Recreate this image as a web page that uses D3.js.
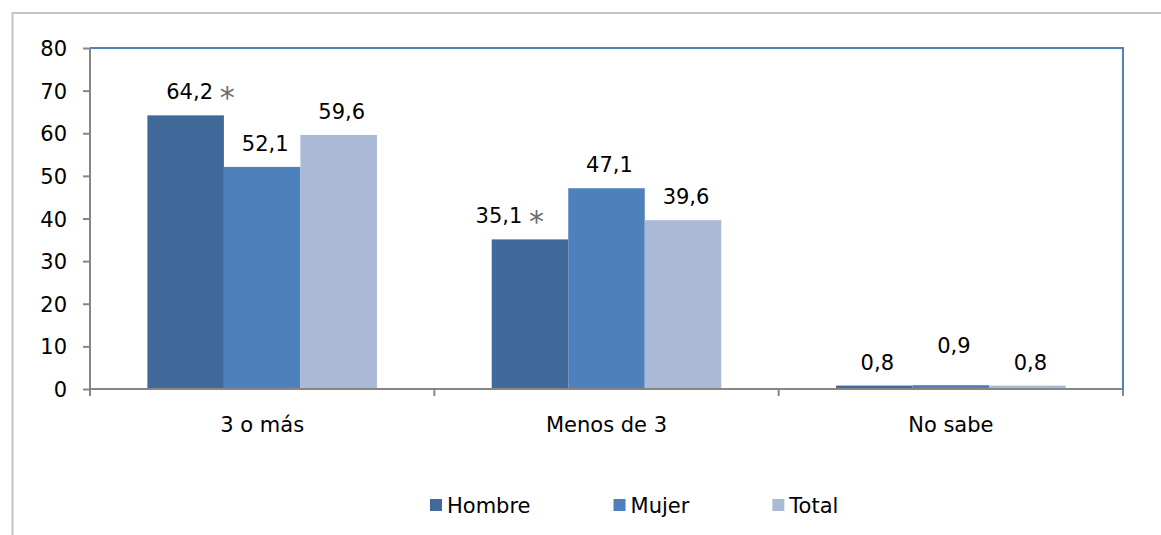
<!DOCTYPE html>
<html>
<head>
<meta charset="utf-8">
<script src="https://cdn.jsdelivr.net/npm/d3@7"></script>
<style>
  body { margin: 0; background: #fff; }
  text { font-family: "DejaVu Sans", Verdana, sans-serif; fill: #000; }
</style>
</head>
<body>
<div id="chart"></div>
<script>
const categories = ["3 o más", "Menos de 3", "No sabe"]
const seriesNames = ["Hombre", "Mujer", "Total"]
const hombre = [64.2, 35.1, 0.8]
const mujer = [52.1, 47.1, 0.9]
const total = [59.6, 39.6, 0.8]
const yTicks = [0, 10, 20, 30, 40, 50, 60, 70, 80]
// significance marks on Hombre labels
const starred = { "Hombre|3 o más": true, "Hombre|Menos de 3": true }

const colors = { Hombre: "#416A9B", Mujer: "#4E80BC", Total: "#AAB9D6" }

const width = 1161
const height = 535
const margin = { top: 48, right: 38, bottom: 146, left: 90 }
const fontSize = "21px"

const svg = d3.select("#chart").append("svg").attr("width", width).attr("height", height)

// outer chart frame (clipped at right and bottom)
svg.append("rect")
  .attr("x", 12.5).attr("y", 13)
  .attr("width", width + 20).attr("height", height + 20)
  .attr("fill", "none").attr("stroke", "#C4C4C4").attr("stroke-width", 2)

const rows = []
categories.forEach((c, i) => {
  rows.push({ cat: c, series: "Hombre", value: hombre[i] })
  rows.push({ cat: c, series: "Mujer", value: mujer[i] })
  rows.push({ cat: c, series: "Total", value: total[i] })
})

const x0 = d3.scaleBand().domain(categories).range([margin.left, width - margin.right]).paddingInner(0).paddingOuter(0)
const x1 = d3.scaleBand().domain(seriesNames).range([0, x0.bandwidth()]).paddingInner(0).paddingOuter(0.75)
const y = d3.scaleLinear().domain([0, 80]).range([height - margin.bottom, margin.top])

// plot area border: top and right in blue
svg.append("path")
  .attr("d", `M${margin.left},${y(80)}H${width - margin.right}V${y(0)}`)
  .attr("fill", "none").attr("stroke", "#4F81BD").attr("stroke-width", 2)

// bars
svg.append("g").selectAll("rect")
  .data(rows)
  .join("rect")
  .attr("x", d => x0(d.cat) + x1(d.series))
  .attr("y", d => y(d.value))
  .attr("width", x1.bandwidth())
  .attr("height", d => y(0) - y(d.value))
  .attr("fill", d => colors[d.series])

// value labels
const fmt = v => d3.format(".1f")(v).replace(".", ",")
const lbl = svg.append("g")
rows.forEach(d => {
  const key = d.series + "|" + d.cat
  const cx = x0(d.cat) + x1(d.series) + x1.bandwidth() / 2
  let dx = 3
  let dy = -16
  if (starred[key] && d.cat === "Menos de 3") dx = -31
  if (starred[key] && d.cat === "3 o más") dx = 4
  if (d.cat === "No sabe" && d.series === "Mujer") dy = -32
  lbl.append("text")
    .attr("x", cx + dx)
    .attr("y", y(d.value) + dy)
    .attr("text-anchor", "middle")
    .style("font-size", fontSize)
    .text(fmt(d.value))
  if (starred[key]) {
    lbl.append("text")
      .attr("x", cx + dx + 30)
      .attr("y", y(d.value) + dy + 9)
      .style("font-size", "30px")
      .style("fill", "#6E6E6E")
      .text("*")
  }
})

// y axis
const yAxis = svg.append("g")
  .attr("transform", `translate(${margin.left},0)`)
  .call(d3.axisLeft(y).tickValues(yTicks).tickSize(7).tickPadding(16).tickFormat(d3.format("d")))
yAxis.select(".domain").attr("stroke", "#868686").attr("stroke-width", 2).attr("d", `M0,${y(80)}V${y(0)}`)
yAxis.selectAll(".tick line").attr("stroke", "#868686").attr("stroke-width", 2)
yAxis.selectAll(".tick text").style("font-size", fontSize).attr("dy", "0.36em").attr("font-family", null)

// x axis
const xAxis = svg.append("g")
  .attr("transform", `translate(0,${y(0)})`)
  .call(d3.axisBottom(x0).tickSize(0).tickPadding(28))
xAxis.select(".domain").attr("stroke", "#868686").attr("stroke-width", 2).attr("d", `M${margin.left},0H${width - margin.right}`)
xAxis.selectAll(".tick text").style("font-size", fontSize).attr("font-family", null)
// boundary ticks between categories
xAxis.append("g").selectAll("line")
  .data(categories.concat([null]))
  .join("line")
  .attr("x1", (d, i) => i < categories.length ? x0(d) : x0.range()[1])
  .attr("x2", (d, i) => i < categories.length ? x0(d) : x0.range()[1])
  .attr("y1", 0).attr("y2", 7)
  .attr("stroke", "#868686").attr("stroke-width", 2)
svg.selectAll(".tick text").style("fill", "#000")

// legend, items laid out one after another
const legend = svg.append("g").attr("transform", "translate(0,499)")
let lx = 430
seriesNames.forEach(s => {
  const g = legend.append("g").attr("transform", `translate(${lx},0)`)
  g.append("rect").attr("width", 12).attr("height", 12).attr("fill", colors[s])
  const t = g.append("text").attr("x", 17).attr("y", 14).style("font-size", fontSize).text(s)
  lx += 17 + t.node().getComputedTextLength() + 83
})
</script>
</body>
</html>
